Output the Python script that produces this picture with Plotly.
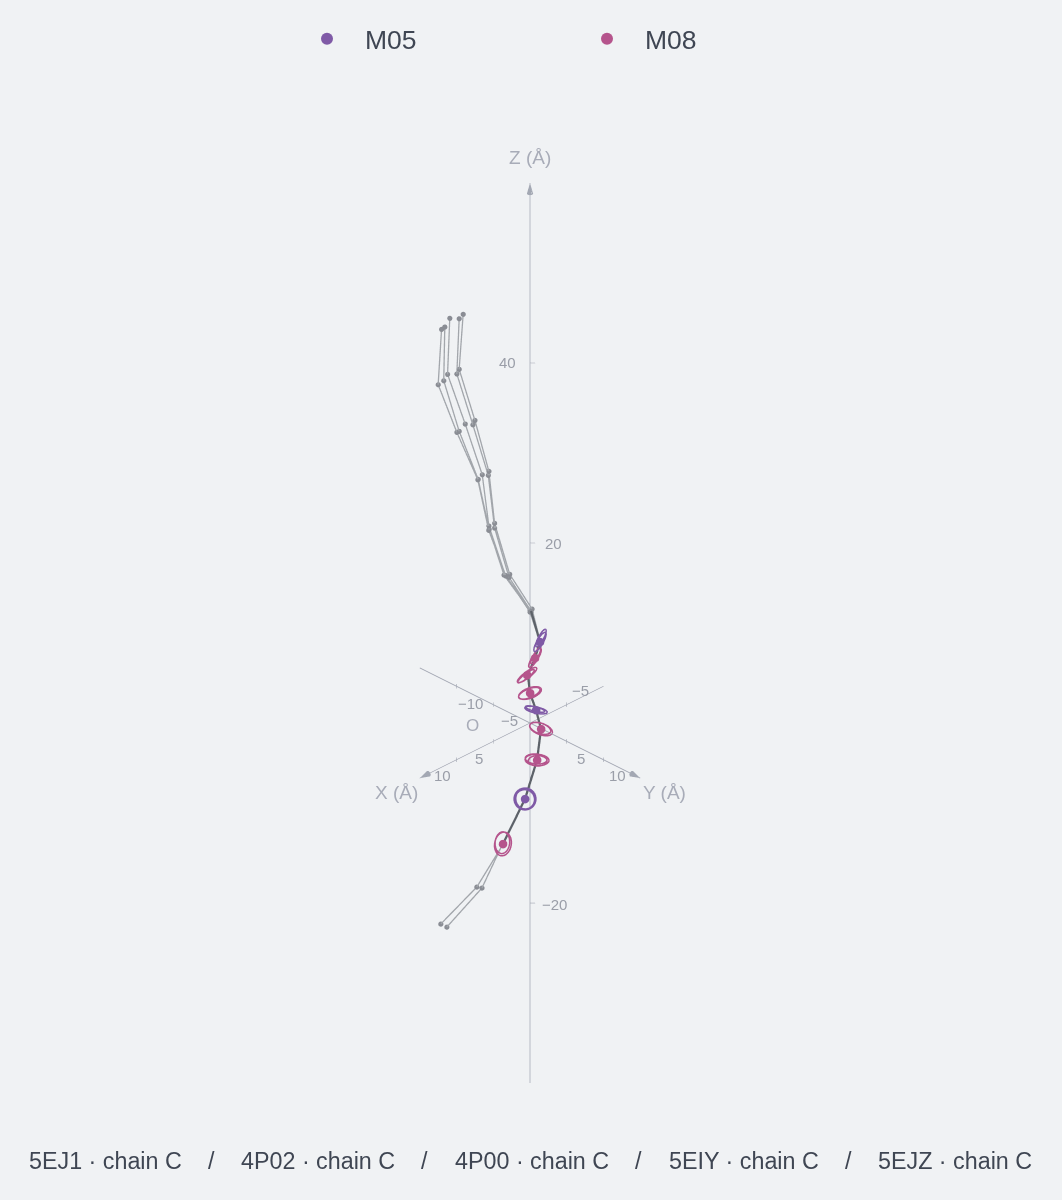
import math
import plotly.graph_objects as go

BG = "#f0f2f4"
AXIS = "#a3a8b3"
TICK_TXT = "#9a9ea8"
NAME_TXT = "#a8acb8"
TEXT = "#3f4653"
COL = {"M05": "#7f5aa6", "M08": "#b5548c"}
STRAND = "#a2a6ab"
CORE = "#5d6269"
NODE = "#8a8d94"

chain_names = ["5EJ1 · chain C", "4P02 · chain C", "4P00 · chain C", "5EIY · chain C", "5EJZ · chain C"]

# strand positions: x (Å) and z (Å); y is taken as -x
s1_x = [4.55, 4.82, 3.75, 2.80, 2.41, 1.38, -0.14, -0.70, -0.36, 0.14, 0.0, -0.42, -0.76, -0.50, 0.32, 1.82, 3.62, 6.07]
s1_z = [45.41, 39.3, 33.63, 27.97, 22.19, 16.52, 12.67, 9.0, 7.22, 5.33, 3.33, 1.44, -0.67, -4.11, -8.44, -13.44, -18.22, -22.33]
s2_x = [4.82, 4.98, 3.89, 2.84, 2.41, 1.43, -0.07, -0.66, -0.33, 0.16, 0.02, -0.40, -0.74, -0.47, 0.36, 1.86, 3.27, 5.66]
s2_z = [44.92, 38.78, 33.14, 27.52, 21.67, 16.19, 12.44, 9.05, 7.25, 5.36, 3.3, 1.42, -0.7, -4.13, -8.47, -13.42, -18.33, -22.67]
s3_x = [5.46, 5.61, 4.41, 3.25, 2.80, 1.68, 0.0, -0.68, -0.34, 0.12, -0.02, -0.41, -0.75, -0.49, 0.34, 1.84]
s3_z = [44.97, 38.74, 33.22, 27.59, 21.89, 16.41, 12.33, 8.95, 7.2, 5.3, 3.35, 1.46, -0.65, -4.1, -8.42, -13.46]
s4_x = [5.80, 5.87, 4.82, 3.53, 2.78, 1.77, -0.07, -0.67, -0.35, 0.15, 0.01, -0.43, -0.75, -0.48, 0.35, 1.83]
s4_z = [44.0, 38.03, 32.41, 27.08, 21.52, 16.44, 12.33, 9.02, 7.24, 5.32, 3.31, 1.45, -0.68, -4.12, -8.45, -13.43]
s5_x = [6.02, 6.25, 4.98, 3.55, 2.81, 1.64, 0.0, -0.69, -0.34, 0.13, 0.0, -0.41, -0.77, -0.49, 0.33, 1.85]
s5_z = [43.74, 37.59, 32.3, 27.03, 21.41, 16.33, 12.56, 8.98, 7.21, 5.34, 3.32, 1.43, -0.66, -4.11, -8.43, -13.44]

# stretch where all five strands run on top of each other
core_x = [-0.07, -0.68, -0.34, 0.14, 0.0, -0.41, -0.75, -0.48, 0.34, 1.84]
core_z = [12.44, 9.0, 7.22, 5.33, 3.33, 1.44, -0.67, -4.11, -8.44, -13.44]

# glycan sites: centre dots
m05_x = [-0.68, -0.41, 0.34]
m05_z = [9.0, 1.44, -8.44]
m08_x = [-0.34, 0.2, 0.0, -0.75, -0.48, 1.84]
m08_z = [7.22, 5.33, 3.33, -0.67, -4.11, -13.44]

# rings: series, centre x, centre z, long radius, short radius, tilt (deg)
ring_series = ["M05", "M05", "M08", "M08", "M08", "M08", "M08", "M08", "M05", "M05",
               "M08", "M08", "M08", "M08", "M08", "M05", "M05", "M05", "M08", "M08"]
ring_x = [-0.68, -0.75, -0.34, -0.40, 0.20, 0.27, 0.0, 0.05, -0.41, -0.35,
          -0.75, -0.70, -0.48, -0.42, -0.52, 0.34, 0.32, 0.36, 1.84, 1.88]
ring_z = [9.0, 9.44, 7.22, 7.5, 5.33, 5.2, 3.33, 3.3, 1.44, 1.55,
          -0.67, -0.6, -4.11, -4.0, -4.2, -8.44, -8.4, -8.5, -13.44, -13.3]
ring_a = [1.06, 0.95, 1.06, 0.90, 1.15, 1.00, 1.15, 1.10, 1.10, 0.95,
          1.15, 1.05, 1.15, 1.05, 0.90, 1.05, 1.00, 0.95, 1.15, 1.05]
ring_b = [0.30, 0.25, 0.28, 0.22, 0.30, 0.22, 0.50, 0.42, 0.30, 0.22,
          0.55, 0.50, 0.55, 0.48, 0.50, 1.05, 0.92, 0.95, 0.80, 0.70]
ring_tilt = [60, 62, 58, 60, 37, 38, 20, 22, -12, -14, -20, -18, -3, -5, 0, 0, 90, 80, 80, 85]

# axes
x_end = [15, -10]
y_end = [-15, 15]
z_end = [-40, 60]
x_ticks = [-5, 5, 10]
y_ticks = [-10, -5, 5, 10]
z_ticks = [-20, 20, 40]

VIEW_EL = math.radians(30)
ux, uy, uz = -math.sqrt(0.5), math.sqrt(0.5), 0.0
vx, vy, vz = -math.sin(VIEW_EL) * math.sqrt(0.5), -math.sin(VIEW_EL) * math.sqrt(0.5), math.cos(VIEW_EL)
# unit vector towards the viewer: used to stack layers without moving them on screen
wx, wy, wz = math.cos(VIEW_EL) * math.sqrt(0.5), math.cos(VIEW_EL) * math.sqrt(0.5), math.sin(VIEW_EL)

def toward_viewer(xs, zs, depth):
    return ([v + depth * wx for v in xs], [-v + depth * wy for v in xs], [v + depth * wz for v in zs])

def ring_points(series, depth):
    xs, ys, zs = [], [], []
    for s, cx, cz, a, b, t in zip(ring_series, ring_x, ring_z, ring_a, ring_b, ring_tilt):
        if s != series:
            continue
        tr = math.radians(t)
        for i in range(41):
            p = 2 * math.pi * i / 40
            p1 = a * math.cos(p) * math.cos(tr) - b * math.sin(p) * math.sin(tr)
            p2 = a * math.cos(p) * math.sin(tr) + b * math.sin(p) * math.cos(tr)
            xs.append(cx + p1 * ux + p2 * vx + depth * wx)
            ys.append(-cx + p1 * uy + p2 * vy + depth * wy)
            zs.append(cz + p1 * uz + p2 * vz + depth * wz)
        xs.append(None); ys.append(None); zs.append(None)
    return xs, ys, zs

fig = go.Figure()

# axis lines
for ax_x, ax_y, ax_z in [(x_end, [0, 0], [0, 0]), ([0, 0], y_end, [0, 0]), ([0, 0], [0, 0], z_end)]:
    fig.add_trace(go.Scatter3d(x=ax_x, y=ax_y, z=ax_z, mode="lines",
                               line=dict(color=AXIS, width=1.5), showlegend=False, hoverinfo="skip"))

# tick marks
tx, ty, tz = [], [], []
for t in x_ticks:
    tx += [t, t, None]; ty += [0, 0, None]; tz += [-0.25, 0.25, None]
for t in y_ticks:
    tx += [0, 0, None]; ty += [t, t, None]; tz += [-0.25, 0.25, None]
for t in z_ticks:
    tx += [0, -0.35, None]; ty += [0, 0.35, None]; tz += [t, t, None]
fig.add_trace(go.Scatter3d(x=tx, y=ty, z=tz, mode="lines",
                           line=dict(color=AXIS, width=1.2), showlegend=False, hoverinfo="skip"))

# axis arrows
fig.add_trace(go.Cone(x=[x_end[0], 0, 0], y=[0, y_end[1], 0], z=[0, 0, z_end[1]],
                      u=[1, 0, 0], v=[0, 1, 0], w=[0, 0, 1], anchor="tip",
                      sizemode="absolute", sizeref=0.056, showscale=False,
                      colorscale=[[0, AXIS], [1, AXIS]], lighting=dict(ambient=1, diffuse=0, specular=0),
                      hoverinfo="skip", showlegend=False))

# strands
for name, sx, sz in zip(chain_names, [s1_x, s2_x, s3_x, s4_x, s5_x], [s1_z, s2_z, s3_z, s4_z, s5_z]):
    fig.add_trace(go.Scatter3d(x=sx, y=[-v for v in sx], z=sz, mode="lines+markers", name=name,
                               line=dict(color=STRAND, width=2.6),
                               marker=dict(color=NODE, size=3),
                               showlegend=False))

cx3, cy3, cz3 = toward_viewer(core_x, core_z, 1)
fig.add_trace(go.Scatter3d(x=cx3, y=cy3, z=cz3, mode="lines",
                           line=dict(color=CORE, width=4.5), showlegend=False, hoverinfo="skip"))

# rings and centre dots
for series, dot_x, dot_z in [("M05", m05_x, m05_z), ("M08", m08_x, m08_z)]:
    rx, ry, rz = ring_points(series, 2)
    fig.add_trace(go.Scatter3d(x=rx, y=ry, z=rz, mode="lines", legendgroup=series, showlegend=False,
                               line=dict(color=COL[series], width=3), hoverinfo="skip"))
    dx3, dy3, dz3 = toward_viewer(dot_x, dot_z, 3)
    fig.add_trace(go.Scatter3d(x=dx3, y=dy3, z=dz3, mode="markers", name=series,
                               legendgroup=series, marker=dict(color=COL[series], size=5)))

def label(x, y, z, text, dx, dy, size=15, color=TICK_TXT):
    return dict(x=x, y=y, z=z, text=text, showarrow=False, xshift=dx, yshift=-dy,
                font=dict(size=size, color=color, family="Liberation Sans"))

ann3d = []
for t, (dx, dy) in zip(x_ticks, [(14, -14), (-14, 17), (-14, 16)]):
    ann3d.append(label(t, 0, 0, str(t).replace("-", "−"), dx, dy))
for t, (dx, dy) in zip(y_ticks, [(14, 17), (16, 16), (14, 17), (14, 16)]):
    ann3d.append(label(0, t, 0, str(t).replace("-", "−"), dx, dy))
for t, (dx, dy) in zip(z_ticks, [(24, 1), (23, 1), (-23, 0)]):
    ann3d.append(label(0, 0, t, str(t).replace("-", "−"), dx, dy))
ann3d.append(label(0, 0, 0, "O", -58, 2, 17, NAME_TXT))
ann3d.append(label(0, 0, z_end[1], "Z (Å)", 0, -25, 19, NAME_TXT))
ann3d.append(label(x_end[0], 0, 0, "X (Å)", -23, 14, 19, NAME_TXT))
ann3d.append(label(0, y_end[1], 0, "Y (Å)", 24, 14, 19, NAME_TXT))

W, H = 1062, 1200
bottom = [(105.5, chain_names[0]), (211, "/"), (318, chain_names[1]), (424, "/"), (531.5, chain_names[2]),
          (638, "/"), (743.5, chain_names[3]), (848, "/"), (954.5, chain_names[4])]
ann2d = [dict(x=px / W, y=1 - 1161 / H, xref="paper", yref="paper", text=t, showarrow=False,
              xanchor="center", yanchor="middle", font=dict(size=23.3, color=TEXT, family="Liberation Sans"))
         for px, t in bottom]

fig.update_layout(
    width=W, height=H, margin=dict(l=0, r=0, t=0, b=0),
    paper_bgcolor=BG, plot_bgcolor=BG,
    font=dict(family="Liberation Sans"),
    showlegend=True,
    legend=dict(orientation="h", x=(332 - 43) / W, xanchor="left", y=1 - 15 / H, yanchor="top",
                entrywidth=199, entrywidthmode="pixels", itemsizing="constant", itemwidth=66,
                font=dict(size=26.5, color=TEXT), bgcolor="rgba(0,0,0,0)"),
    annotations=ann2d,
    scene=dict(
        domain=dict(x=[0, 1060 / W], y=[0, 1134 / H]),
        xaxis=dict(visible=False, range=[-20, 20]),
        yaxis=dict(visible=False, range=[-20, 20]),
        zaxis=dict(visible=False, range=[-40, 60]),
        aspectmode="manual", aspectratio=dict(x=0.733, y=0.733, z=1.833),
        bgcolor=BG,
        camera=dict(projection=dict(type="orthographic"),
                    eye=dict(x=1.5, y=1.5, z=1.2247), up=dict(x=0, y=0, z=1), center=dict(x=0, y=0, z=0)),
        annotations=ann3d,
    ),
)

fig.write_html("out.html", config={"displayModeBar": False},
               post_script="document.body.style.margin='0';document.body.style.background='%s';" % BG)
